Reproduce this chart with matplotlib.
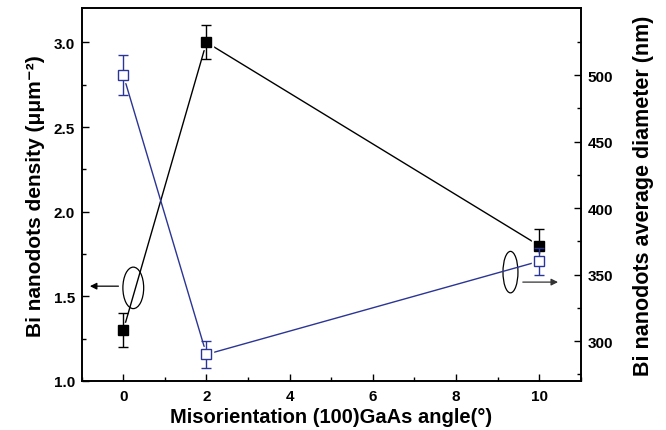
# Bi nanodots density and diameter vs GaAs substrate misorientation
import matplotlib
matplotlib.use("Agg")
import matplotlib.pyplot as plt
from matplotlib.patches import Ellipse

plt.rcParams['font.family'] = ['Liberation Sans', 'DejaVu Sans']
plt.rcParams['font.weight'] = 'bold'

# data
angles = [0, 2, 10]
density = [1.3, 3.0, 1.8]          # left axis, um^-2
density_err = [0.1, 0.1, 0.1]
diameter = [500, 290, 360]         # right axis, nm
diameter_err = [15, 10, 10]

blue = '#2b3595'

fig = plt.figure(figsize=(6.66, 4.31), dpi=100)
ax = fig.add_axes([0.1227, 0.1137, 0.7493, 0.8643])
ax2 = ax.twinx()

# density (black, filled squares)
ax.plot(angles, density, color='black', lw=1.0, zorder=2)
ax.plot(angles, density, 's', ms=10, color='white', zorder=3)
ax.errorbar(angles, density, yerr=density_err, fmt='none', ecolor='black',
            elinewidth=1.0, capsize=3.5, capthick=1.0, zorder=4)
ax.plot(angles, density, 's', ms=7, color='black', zorder=5)

# diameter (blue, open squares)
ax2.plot(angles, diameter, color=blue, lw=1.0, zorder=2)
ax2.plot(angles, diameter, 's', ms=10, color='white', zorder=3)
ax2.errorbar(angles, diameter, yerr=diameter_err, fmt='none', ecolor=blue,
             elinewidth=1.0, capsize=3.5, capthick=1.0, zorder=4)
ax2.plot(angles, diameter, 's', ms=7, mfc='white', mec=blue, mew=1.0, zorder=5)

ax.set_xlim(-1, 11)
ax.set_ylim(1.0, 3.2)
ax2.set_ylim(270, 550)
ax.set_xticks([0, 2, 4, 6, 8, 10])
ax.set_xticks([-1, 1, 3, 5, 7, 9, 11], minor=True)
ax.set_yticks([1.0, 1.5, 2.0, 2.5, 3.0])
ax.set_yticks([1.25, 1.75, 2.25, 2.75], minor=True)
ax2.set_yticks([300, 350, 400, 450, 500])
ax2.set_yticks([275, 325, 375, 425, 475, 525], minor=True)

for a in (ax, ax2):
    a.tick_params(which='major', direction='in', length=5, width=1.0, labelsize=11)
    a.tick_params(which='minor', direction='in', length=3, width=1.0)
    for s in a.spines.values():
        s.set_linewidth(1.2)
ax.tick_params(axis='x', pad=6)
ax.tick_params(axis='y', pad=5)
ax2.tick_params(axis='y', pad=5)
for lab in ax.get_xticklabels() + ax.get_yticklabels() + ax2.get_yticklabels():
    lab.set_fontweight('bold')

ax.set_xlabel('Misorientation (100)GaAs angle(°)', fontsize=14.5, fontweight='bold', labelpad=3)
ax.set_ylabel('Bi nanodots density (μμm\u207b\u00b2)', fontsize=15, fontweight='bold', labelpad=6)
ax2.set_ylabel('Bi nanodots average diameter (nm)', fontsize=15.5, fontweight='bold', labelpad=14)

# ellipses with arrows pointing to the respective axis
ax.add_patch(Ellipse((0.24, 1.55), 0.5, 0.245, fill=False, ec='black', lw=0.9, zorder=6))
ax.annotate('', xy=(-0.87, 1.56), xytext=(-0.05, 1.56),
            arrowprops=dict(arrowstyle='-|>', color='black', lw=0.9, mutation_scale=10))
ax.add_patch(Ellipse((9.31, 1.643), 0.36, 0.245, fill=False, ec='black', lw=0.9, zorder=6))
ax.annotate('', xy=(10.52, 1.584), xytext=(9.54, 1.584),
            arrowprops=dict(arrowstyle='-|>', color='#333333', lw=0.9, mutation_scale=10))

fig.savefig('out.png', dpi=100)
